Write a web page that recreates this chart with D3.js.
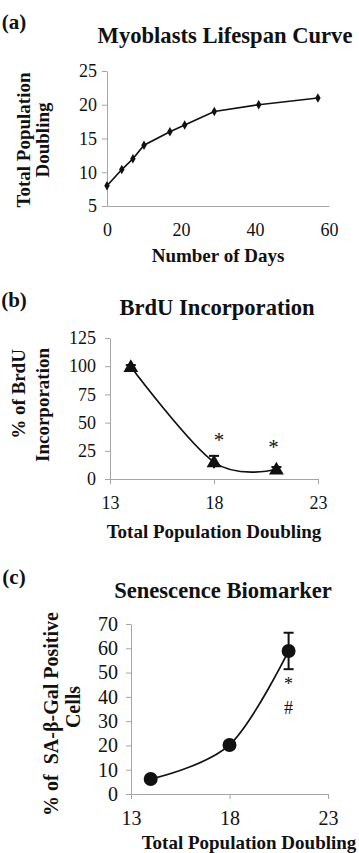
<!DOCTYPE html>
<html>
<head>
<meta charset="utf-8">
<script src="https://cdn.jsdelivr.net/npm/d3@7"></script>
<style>
  body { margin: 0; background: #fff; }
  svg text { font-family: "Liberation Serif", "Times New Roman", serif; fill: #111; white-space: pre; }
  .axis path, .axis line { stroke: #a6a6a6; }
</style>
</head>
<body>
<div id="fig"></div>
<script>
// (a) lifespan curve
var daysA = [0, 4, 7, 10, 17, 21, 29, 41, 57];
var doublingA = [8, 10.4, 12, 14, 16, 17, 19, 20, 21];
var ticksAx = [0, 20, 40, 60];
var ticksAy = [5, 10, 15, 20, 25];

// (b) BrdU incorporation
var doublingB = [14, 18, 21];
var brdu = [99.5, 15, 8.6];
var brduErr = [1.5, 5.5, 2];
var starsB = ['*', '*'];
var ticksBy = [0, 25, 50, 75, 100, 125];

// (c) SA-beta-Gal
var doublingC = [14, 18, 21];
var sabgal = [6.2, 20.2, 58.9];
var sabgalErr = [1, 1.5, 7.5];
var ticksCy = [0, 10, 20, 30, 40, 50, 60, 70];
var ticksPD = [13, 18, 23];

var width = 359, height = 853;
var svg = d3.select('#fig').append('svg')
    .attr('width', width)
    .attr('height', height);

/**
 * Draws axes with excel look
 */
var drawAxes = function(x, y, xt, yt, opts) {
  svg.append('g')
      .attr('class', 'axis')
      .attr('transform', 'translate(0,' + y.range()[0] + ')')
      .call(d3.axisBottom(x).tickValues(xt).tickSize(opts.xTick).tickSizeOuter(0)
            .tickPadding(opts.xPad).tickFormat(d3.format('d')))
      .call(function(g) { g.selectAll('text').attr('font-size', opts.font); });
  svg.append('g')
      .attr('class', 'axis')
      .attr('transform', 'translate(' + x.range()[0] + ',0)')
      .call(d3.axisLeft(y).tickValues(yt).tickSize(5).tickSizeOuter(0)
            .tickPadding(opts.yPad).tickFormat(d3.format('d')))
      .call(function(g) { g.selectAll('text').attr('font-size', opts.font); });
};

var label = function(txt, x, y, size, bold, rotate) {
  svg.append('text')
      .attr('text-anchor', 'middle')
      .attr('font-size', size)
      .attr('font-weight', bold ? 'bold' : 'normal')
      .attr('transform', 'translate(' + x + ',' + y + ')' + (rotate ? ' rotate(-90)' : ''))
      .text(txt);
};

// ---------- (a)
var xA = d3.scaleLinear().domain([0, 60]).range([107, 329]);
var yA = d3.scaleLinear().domain([5, 25]).range([206, 71]);
drawAxes(xA, yA, ticksAx, ticksAy, { xTick: 0, xPad: 17, yPad: 5, font: 18 });

var ptsA = daysA.map(function(d, i) { return [d, doublingA[i]]; });
svg.append('path')
    .datum(ptsA)
    .attr('fill', 'none')
    .attr('stroke', '#111')
    .attr('stroke-width', 1.7)
    .attr('d', d3.line().x(function(d) { return xA(d[0]); }).y(function(d) { return yA(d[1]); }));
svg.selectAll('.dia').data(ptsA).enter().append('path')
    .attr('class', 'dia')
    .attr('fill', '#111')
    .attr('transform', function(d) { return 'translate(' + xA(d[0]) + ',' + yA(d[1]) + ')'; })
    .attr('d', d3.symbol(d3.symbolDiamond).size(26));

label('(a)', 14, 29, 21, true);
label('Myoblasts Lifespan Curve', 225, 43, 22.6, true);
label('Total Population', 30, 140, 19, true, true);
label('Doubling', 49, 140, 19, true, true);
label('Number of Days', 218, 262, 19, true);

// ---------- (b)
var xB = d3.scaleLinear().domain([13, 23]).range([110, 318]);
var yB = d3.scaleLinear().domain([0, 125]).range([479, 338]);
drawAxes(xB, yB, ticksPD, ticksBy, { xTick: 5, xPad: 12, yPad: 9, font: 18 });

var ptsB = doublingB.map(function(d, i) { return { x: d, y: brdu[i], e: brduErr[i] }; });
svg.append('path')
    .datum(ptsB)
    .attr('fill', 'none')
    .attr('stroke', '#111')
    .attr('stroke-width', 1.7)
    .attr('d', d3.line().curve(d3.curveCardinal.tension(0)).x(function(d) { return xB(d.x); }).y(function(d) { return yB(d.y); }));
var ebB = svg.selectAll('.ebB').data(ptsB).enter().append('g').attr('class', 'ebB')
    .attr('stroke', '#111').attr('stroke-width', 2);
ebB.append('line')
    .attr('x1', function(d) { return xB(d.x); }).attr('x2', function(d) { return xB(d.x); })
    .attr('y1', function(d) { return yB(d.y - d.e); }).attr('y2', function(d) { return yB(d.y + d.e); });
ebB.append('line')
    .attr('x1', function(d) { return xB(d.x) - 5; }).attr('x2', function(d) { return xB(d.x) + 5; })
    .attr('y1', function(d) { return yB(d.y + d.e); }).attr('y2', function(d) { return yB(d.y + d.e); });
svg.selectAll('.tri').data(ptsB).enter().append('path')
    .attr('class', 'tri')
    .attr('fill', '#111')
    .attr('transform', function(d) { return 'translate(' + xB(d.x) + ',' + (yB(d.y) + 1) + ')'; })
    .attr('d', d3.symbol(d3.symbolTriangle).size(95));
svg.selectAll('.starB').data(ptsB.slice(1)).enter().append('text')
    .attr('class', 'starB')
    .attr('text-anchor', 'middle')
    .attr('font-size', 21)
    .attr('x', function(d) { return xB(d.x) + (d.x === 18 ? 5 : -3); })
    .attr('y', function(d) { return yB(d.y) - 15; })
    .text(function(d, i) { return starsB[i]; });

label('(b)', 14, 307, 21, true);
label('BrdU Incorporation', 217, 315, 22.6, true);
label('% of BrdU', 25, 394, 19, true, true);
label('Incorporation', 49, 405, 19, true, true);
label('Total Population Doubling', 214, 538, 19, true);

// ---------- (c)
var xC = d3.scaleLinear().domain([13, 23]).range([131, 328]);
var yC = d3.scaleLinear().domain([0, 70]).range([794, 624]);
drawAxes(xC, yC, ticksPD, ticksCy, { xTick: 5, xPad: 12, yPad: 8, font: 20 });

var ptsC = doublingC.map(function(d, i) { return { x: d, y: sabgal[i], e: sabgalErr[i] }; });
svg.append('path')
    .datum(ptsC)
    .attr('fill', 'none')
    .attr('stroke', '#111')
    .attr('stroke-width', 1.7)
    .attr('d', d3.line().curve(d3.curveCardinal.tension(0)).x(function(d) { return xC(d.x); }).y(function(d) { return yC(d.y); }));
var ebC = svg.selectAll('.ebC').data(ptsC).enter().append('g').attr('class', 'ebC')
    .attr('stroke', '#111').attr('stroke-width', 2);
ebC.append('line')
    .attr('x1', function(d) { return xC(d.x); }).attr('x2', function(d) { return xC(d.x); })
    .attr('y1', function(d) { return yC(d.y - d.e); }).attr('y2', function(d) { return yC(d.y + d.e); });
ebC.append('line')
    .attr('x1', function(d) { return xC(d.x) - 5; }).attr('x2', function(d) { return xC(d.x) + 5; })
    .attr('y1', function(d) { return yC(d.y + d.e); }).attr('y2', function(d) { return yC(d.y + d.e); });
ebC.append('line')
    .attr('x1', function(d) { return xC(d.x) - 5; }).attr('x2', function(d) { return xC(d.x) + 5; })
    .attr('y1', function(d) { return yC(d.y - d.e); }).attr('y2', function(d) { return yC(d.y - d.e); });
svg.selectAll('.dot').data(ptsC).enter().append('circle')
    .attr('class', 'dot')
    .attr('fill', '#111')
    .attr('cx', function(d) { return xC(d.x); })
    .attr('cy', function(d) { return yC(d.y); })
    .attr('r', 7);

var last = ptsC[ptsC.length - 1];
svg.append('text').attr('text-anchor', 'middle').attr('font-size', 18)
    .attr('x', xC(last.x)).attr('y', yC(last.y) + 39).text('*');
svg.append('text').attr('text-anchor', 'middle').attr('font-size', 18)
    .attr('x', xC(last.x)).attr('y', yC(last.y) + 63).text('#');

label('(c)', 14, 584, 21, true);
label('Senescence Biomarker', 223, 598, 22.6, true);
label('% of  SA-β-Gal Positive', 58, 714, 20, true, true);
label('Cells', 80, 707, 20, true, true);
label('Total Population Doubling', 249, 849, 19, true);
</script>
</body>
</html>
